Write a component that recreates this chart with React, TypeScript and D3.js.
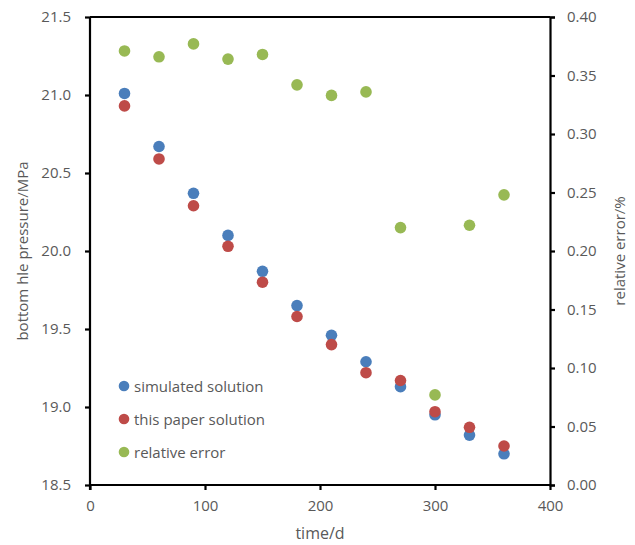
import React, { useEffect, useRef } from 'react';
import * as d3 from 'd3';

// time in days
const days = [30, 60, 90, 120, 150, 180, 210, 240, 270, 300, 330, 360];
// bottom hole pressure, MPa
const simulated = [21.01, 20.67, 20.37, 20.10, 19.87, 19.65, 19.46, 19.29, 19.13, 18.95, 18.82, 18.70];
const paper = [20.93, 20.59, 20.29, 20.03, 19.80, 19.58, 19.40, 19.22, 19.17, 18.97, 18.87, 18.75];
// relative error, %
const relError = [0.371, 0.366, 0.377, 0.364, 0.368, 0.342, 0.333, 0.336, 0.220, 0.077, 0.222, 0.248];

const leftTicks = [18.5, 19.0, 19.5, 20.0, 20.5, 21.0, 21.5];
const rightTicks = [0, 0.05, 0.1, 0.15, 0.2, 0.25, 0.3, 0.35, 0.4];
const xTicks = [0, 100, 200, 300, 400];

const legendItems = [
  { label: 'simulated solution', color: '#4a7ebb' },
  { label: 'this paper solution', color: '#be4b48' },
  { label: 'relative error', color: '#98b954' },
];

const App = () => {
  const svgRef = useRef<SVGSVGElement>(null);

  useEffect(() => {
    const width = 635;
    const height = 545;
    const margin = { top: 17, right: 85, bottom: 60, left: 90 };
    const font = 'Open Sans, sans-serif';
    const textColor = '#595959';

    const svg = d3.select(svgRef.current);
    svg.selectAll('*').remove();
    svg.attr('width', width).attr('height', height);

    const x = d3.scaleLinear().domain([0, 400]).range([margin.left, width - margin.right]);
    const yL = d3.scaleLinear().domain([18.5, 21.5]).range([height - margin.bottom, margin.top]);
    const yR = d3.scaleLinear().domain([0, 0.4]).range([height - margin.bottom, margin.top]);

    // plot frame lines
    const x0 = margin.left, x1 = width - margin.right;
    const y0 = height - margin.bottom, y1 = margin.top;
    svg.append('line').attr('x1', x0).attr('x2', x1).attr('y1', y1).attr('y2', y1)
      .attr('stroke', '#000').attr('stroke-width', 2.2);

    // left axis
    const left = svg.append('g').attr('transform', `translate(${x0},0)`)
      .call(d3.axisLeft(yL).tickValues(leftTicks).tickFormat(d3.format('.1f')).tickSize(5).tickPadding(14));
    // right axis
    const right = svg.append('g').attr('transform', `translate(${x1},0)`)
      .call(d3.axisRight(yR).tickValues(rightTicks).tickFormat(d3.format('.2f')).tickSize(5).tickPadding(12));
    // bottom axis
    const bottom = svg.append('g').attr('transform', `translate(0,${y0})`)
      .call(d3.axisBottom(x).tickValues(xTicks).tickFormat(d3.format('d')).tickSize(5).tickPadding(10));

    [left, right, bottom].forEach(g => {
      g.select('.domain').attr('stroke', '#000').attr('stroke-width', 2.2);
      g.selectAll('.tick line').attr('stroke', '#000').attr('stroke-width', 2.2);
      g.selectAll('.tick text').attr('fill', textColor).attr('font-size', 15).attr('font-family', font);
    });
    left.select('.domain').attr('d', `M0,${y0 + 5}V${y1}`);
    bottom.select('.domain').attr('d', `M${x0},0H${x1}`);

    // axis titles
    svg.append('text')
      .attr('transform', `translate(28,${(y0 + y1) / 2}) rotate(-90)`)
      .attr('text-anchor', 'middle').attr('fill', textColor)
      .attr('font-size', 15).attr('font-family', font)
      .text('bottom hle pressure/MPa');
    svg.append('text')
      .attr('transform', `translate(625,${(y0 + y1) / 2}) rotate(-90)`)
      .attr('text-anchor', 'middle').attr('fill', textColor)
      .attr('font-size', 15).attr('font-family', font)
      .text('relative error/%');
    svg.append('text')
      .attr('x', (x0 + x1) / 2).attr('y', 539)
      .attr('text-anchor', 'middle').attr('fill', textColor)
      .attr('font-size', 16).attr('font-family', font)
      .text('time/d');

    const r = 5.8;
    // simulated solution
    svg.append('g').selectAll('circle').data(days).enter().append('circle')
      .attr('cx', d => x(d)).attr('cy', (d, i) => yL(simulated[i]))
      .attr('r', r).attr('fill', legendItems[0].color);
    // this paper solution
    svg.append('g').selectAll('circle').data(days).enter().append('circle')
      .attr('cx', d => x(d)).attr('cy', (d, i) => yL(paper[i]))
      .attr('r', r).attr('fill', legendItems[1].color);
    // relative error
    svg.append('g').selectAll('circle').data(days).enter().append('circle')
      .attr('cx', d => x(d)).attr('cy', (d, i) => yR(relError[i]))
      .attr('r', r).attr('fill', legendItems[2].color);

    // legend
    const legend = svg.append('g').selectAll('g').data(legendItems).enter().append('g')
      .attr('transform', (d, i) => `translate(124,${386 + i * 33})`);
    legend.append('circle').attr('r', 5.3).attr('fill', d => d.color);
    legend.append('text').attr('x', 10).attr('y', 5.5)
      .attr('fill', textColor).attr('font-size', 15).attr('font-family', font)
      .text(d => d.label);
  }, []);

  return <svg ref={svgRef} style={{ position: 'absolute', left: 0, top: 0 }}></svg>;
};

export default App;
